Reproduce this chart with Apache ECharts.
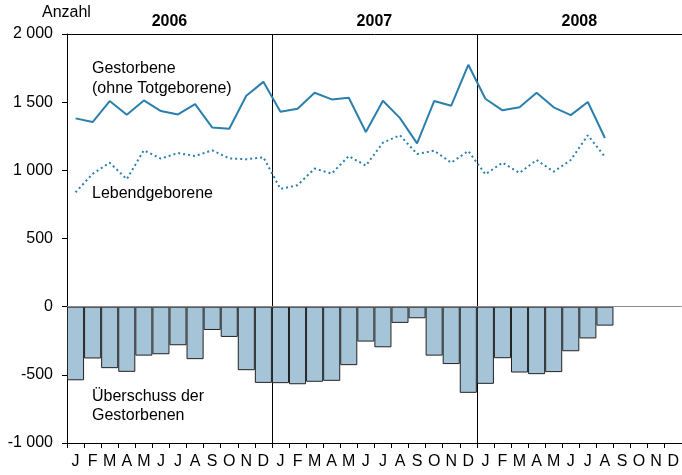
<!DOCTYPE html>
<html>
<head>
<meta charset="utf-8">
<script src="https://cdn.jsdelivr.net/npm/echarts@6/dist/echarts.min.js"></script>
<style>html,body{margin:0;padding:0;background:#fff}#c{width:682px;height:475px}</style>
</head>
<body>
<div id="c"></div>
<script>
const years = ['2006', '2007', '2008'];
const monthLetters = ['J','F','M','A','M','J','J','A','S','O','N','D'];
const yTicks = [-1000, -500, 0, 500, 1000, 1500, 2000];
// Gestorbene (ohne Totgeborene)
const deaths = [
  1381, 1354, 1508, 1408, 1513, 1435, 1410, 1486, 1315, 1305, 1547, 1649,
  1430, 1452, 1569, 1520, 1532, 1281, 1510, 1383, 1198, 1508, 1474, 1774,
  1525, 1440, 1462, 1569, 1462, 1405, 1501, 1237, null, null, null, null
];
// Lebendgeborene
const births = [
  839, 974, 1056, 935, 1147, 1086, 1127, 1105, 1147, 1088, 1081, 1096,
  864, 891, 1013, 976, 1105, 1034, 1203, 1257, 1120, 1144, 1056, 1142,
  971, 1056, 981, 1076, 990, 1076, 1257, 1100, null, null, null, null
];
// Überschuss der Gestorbenen
const excess = [
  -540, -380, -451, -478, -359, -349, -283, -385, -171, -222, -466, -559,
  -561, -569, -551, -544, -429, -256, -298, -119, -85, -359, -421, -632,
  -566, -378, -483, -495, -480, -327, -233, -139, null, null, null, null
];

const categories = [];
years.forEach(y => monthLetters.forEach((m, i) => categories.push(y + '-' + (i + 1))));
const FONT = '"Liberation Sans", Arial, Helvetica, sans-serif';
const lineColor = '#2b7fad';

const chart = echarts.init(document.getElementById('c'), null, {renderer: 'canvas'});
chart.setOption({
  animation: false,
  backgroundColor: '#fff',
  textStyle: {fontFamily: FONT},
  grid: {left: 67, right: 0, top: 34, bottom: 32, containLabel: false},
  xAxis: [{
    type: 'category',
    data: categories,
    boundaryGap: true,
    position: 'bottom',
    axisLine: {show: true, onZero: false, lineStyle: {color: '#000', width: 1}},
    axisTick: {show: true, interval: 0, length: 5, lineStyle: {color: '#000'}},
    axisLabel: {
      interval: 0, margin: 11, fontSize: 16, color: '#000', fontFamily: FONT,
      formatter: v => monthLetters[parseInt(v.split('-')[1], 10) - 1]
    },
    splitLine: {show: true, interval: (i) => i % 12 === 0, lineStyle: {color: '#000', width: 1}}
  }, {
    type: 'category',
    data: years,
    position: 'top',
    boundaryGap: true,
    axisLine: {show: true, onZero: false, lineStyle: {color: '#000', width: 1}},
    axisTick: {show: false},
    axisLabel: {margin: 4, fontSize: 16, fontWeight: 'bold', color: '#000', fontFamily: FONT},
    splitLine: {show: false}
  }],
  yAxis: {
    type: 'value',
    min: yTicks[0], max: yTicks[yTicks.length - 1], interval: 500,
    axisLine: {show: true, lineStyle: {color: '#000', width: 1}},
    axisTick: {show: true, length: 5, lineStyle: {color: '#000'}},
    axisLabel: {
      margin: 14, fontSize: 16, color: '#000', fontFamily: FONT,
      formatter: v => {
        const s = Math.abs(v).toString().replace(/\B(?=(\d{3})+(?!\d))/g, ' ');
        return (v < 0 ? '-' : '') + s;
      }
    },
    splitLine: {show: false}
  },
  series: [{
    type: 'bar',
    data: excess,
    barCategoryGap: '0%',
    itemStyle: {color: '#a6c4d8', borderColor: '#222', borderWidth: 1},
    z: 2,
    markLine: {
      silent: true, symbol: ['none', 'none'], label: {show: false},
      lineStyle: {color: '#8a8a8a', type: 'solid', width: 1},
      data: [{yAxis: 0}]
    }
  }, {
    type: 'line',
    data: deaths,
    symbol: 'none',
    lineStyle: {color: lineColor, width: 2},
    z: 3
  }, {
    type: 'line',
    data: births,
    symbol: 'none',
    lineStyle: {color: lineColor, width: 2, type: [2, 3]},
    z: 3
  }],
  graphic: [
    {type: 'text', left: 42, top: 5, style: {text: 'Anzahl', font: '16px ' + FONT, fill: '#000'}},
    {type: 'text', left: 92, top: 59, style: {text: 'Gestorbene\n(ohne Totgeborene)', font: '16px ' + FONT, fill: '#000', lineHeight: 20}},
    {type: 'text', left: 92, top: 186, style: {text: 'Lebendgeborene', font: '16px ' + FONT, fill: '#000'}},
    {type: 'text', left: 92, top: 387, style: {text: 'Überschuss der\nGestorbenen', font: '16px ' + FONT, fill: '#000', lineHeight: 19}}
  ]
});
</script>
</body>
</html>
